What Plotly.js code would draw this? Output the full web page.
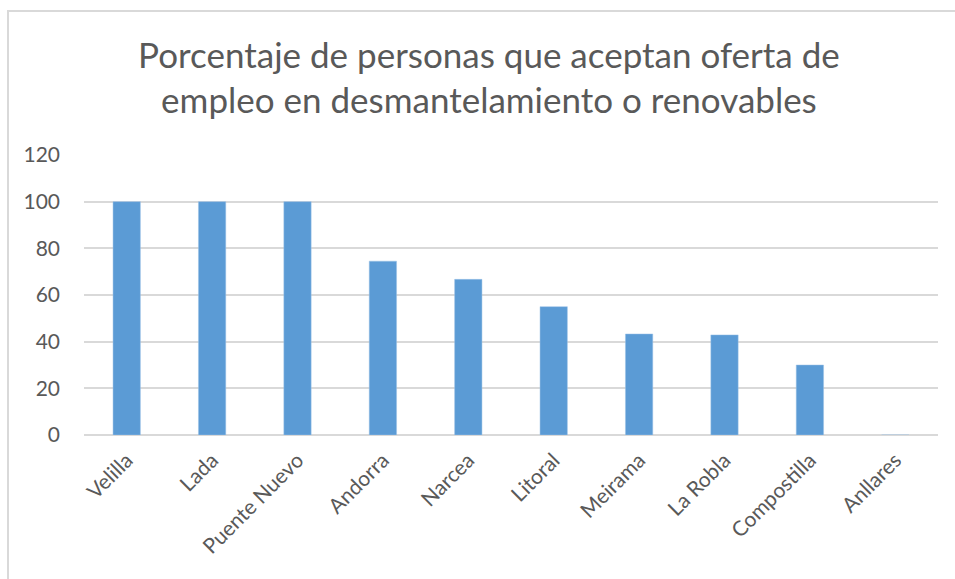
<!DOCTYPE html>
<html>
<head>
<meta charset="utf-8">
<script src="https://cdn.plot.ly/plotly-3.0.1.min.js"></script>
<style>
  body { margin: 0; background: #fff; }
  #wrap { position: relative; width: 955px; height: 579px; }
  #frame { position: absolute; left: 7px; top: 10px; right: 0; bottom: 0;
           border-left: 2px solid #d9d9d9; border-top: 2px solid #d9d9d9; pointer-events: none; }
  #plot1 { width: 955px; height: 579px; }
</style>
</head>
<body>
<div id="wrap">
  <div id="plot1"></div>
  <div id="frame"></div>
</div>
<script>
// categories and values
var plantas = ['Velilla', 'Lada', 'Puente Nuevo', 'Andorra', 'Narcea',
  'Litoral', 'Meirama', 'La Robla', 'Compostilla', 'Anllares'];
var porcentaje = [100, 100, 100, 74.5, 66.7, 55, 43.3, 42.9, 30, 0];
var yTicks = [0, 20, 40, 60, 80, 100, 120];

function draw() {
  try {
    var barras = {
      x: plantas,
      y: porcentaje,
      type: 'bar',
      marker: { color: '#5b9bd5', line: { color: '#9dc3e6', width: 0.5 } },
      hoverinfo: 'x+y'
    };

    var font = 'Lato, sans-serif';
    var layout = {
      width: 955,
      height: 579,
      paper_bgcolor: 'rgba(0,0,0,0)',
      plot_bgcolor: '#fff',
      margin: { l: 84, r: 17, t: 155, b: 144 },
      bargap: 0.68,
      showlegend: false,
      title: {
        text: 'Porcentaje de personas que aceptan oferta de<br>empleo en desmantelamiento o renovables',
        font: { family: font, size: 35, color: '#595959' },
        x: 0.512, xanchor: 'center',
        yref: 'container', y: 0.883, yanchor: 'middle'
      },
      xaxis: {
        tickangle: -45,
        tickfont: { family: font, size: 21, color: '#595959' },
        showgrid: false,
        showline: false,
        ticks: '',
        ticklabelstandoff: 8
      },
      yaxis: {
        range: [0, 120],
        tickvals: yTicks,
        tickfont: { family: font, size: 21, color: '#595959' },
        gridcolor: '#d9d9d9',
        gridwidth: 1.5,
        zeroline: true,
        zerolinecolor: '#d9d9d9',
        zerolinewidth: 1.5,
        showline: false,
        ticks: '',
        ticklabelstandoff: 23
      }
    };

    Plotly.newPlot('plot1', [barras], layout, { displayModeBar: false });
  }
  catch (err) {
    console.error(err);
  }
}
draw();
</script>
</body>
</html>
